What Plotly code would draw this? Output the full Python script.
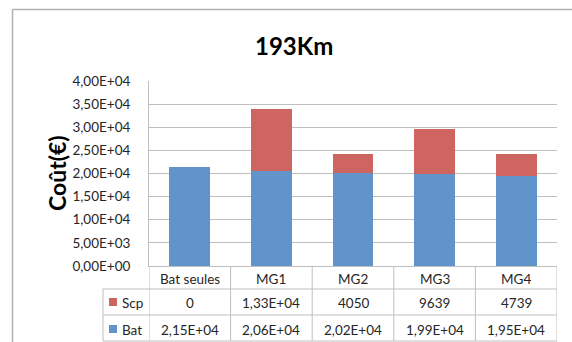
import plotly.graph_objects as go

categories = ["Bat seules", "MG1", "MG2", "MG3", "MG4"]
bat = [21500, 20600, 20200, 19900, 19500]
scp = [0, 13300, 4050, 9639, 4739]
bat_labels = ["2,15E+04", "2,06E+04", "2,02E+04", "1,99E+04", "1,95E+04"]
scp_labels = ["0", "1,33E+04", "4050", "9639", "4739"]
y_ticks = [0, 5000, 10000, 15000, 20000, 25000, 30000, 35000, 40000]
y_tick_labels = ["0,00E+00", "5,00E+03", "1,00E+04", "1,50E+04", "2,00E+04",
                 "2,50E+04", "3,00E+04", "3,50E+04", "4,00E+04"]

W, H = 572, 342
L, R, T, B = 149, 15, 81, 76
PW, PH = W - L - R, H - T - B

def px(x):
    return (x - L) / PW

def py(y):
    return (H - B - y) / PH

BLUE = "#6194CB"
RED = "#CF6561"
GRID = "#BFBFBF"
TXT = "#262626"
FONT = "Lato"

fig = go.Figure()
fig.add_trace(go.Bar(x=categories, y=bat, name="Bat", marker_color=BLUE,
                     marker_line_width=0))
fig.add_trace(go.Bar(x=categories, y=scp, name="Scp", marker_color=RED,
                     marker_line_width=0))

shapes = []
annotations = []
line = dict(color=GRID, width=1)

# chart frame (left and top edges)
shapes.append(dict(type="line", xref="paper", yref="paper", x0=px(12.5), x1=px(600),
                   y0=py(9.5), y1=py(9.5), line=dict(color="#B0B0B0", width=1.5)))
shapes.append(dict(type="line", xref="paper", yref="paper", x0=px(12.5), x1=px(12.5),
                   y0=py(9.5), y1=py(400), line=dict(color="#B0B0B0", width=1.5)))

# data table lines
row_tops = [266, 289, 315, 341]
for yy in row_tops[1:]:
    shapes.append(dict(type="line", xref="paper", yref="paper", x0=px(103), x1=1,
                       y0=py(yy), y1=py(yy), line=line))
shapes.append(dict(type="line", xref="paper", yref="paper", x0=px(103), x1=px(103),
                   y0=py(289), y1=py(341), line=line))
for i in range(len(categories) + 1):
    shapes.append(dict(type="line", xref="x", yref="paper", x0=i - 0.5, x1=i - 0.5,
                       y0=py(266), y1=py(341), line=line))

# header row
for c in categories:
    annotations.append(dict(x=c, y=py(279), xref="x", yref="paper", text=c,
                            showarrow=False, yanchor="middle",
                            font=dict(family=FONT, size=13.5, color=TXT)))
# value rows
for name, labels, color, yc in [("Scp", scp_labels, RED, 303), ("Bat", bat_labels, BLUE, 330)]:
    for c, t in zip(categories, labels):
        annotations.append(dict(x=c, y=py(yc), xref="x", yref="paper", text=t,
                                showarrow=False, yanchor="middle",
                                font=dict(family=FONT, size=13.5, color=TXT)))
    shapes.append(dict(type="rect", xref="paper", yref="paper", x0=px(109), x1=px(117),
                       y0=py(yc - 5), y1=py(yc + 3), fillcolor=color, line_width=0))
    annotations.append(dict(x=px(119.5), y=py(yc), xref="paper", yref="paper", text=name,
                            showarrow=False, xanchor="left", yanchor="middle",
                            font=dict(family=FONT, size=13.5, color=TXT)))

# title
annotations.append(dict(x=px(294), y=py(46), xref="paper", yref="paper", text="<b>193Km</b>",
                        showarrow=False, xanchor="center", yanchor="middle",
                        font=dict(family=FONT, size=24, color="#000000")))
# y axis title
annotations.append(dict(x=px(57), y=py(173), xref="paper", yref="paper", text="<b>Coût(€)</b>",
                        showarrow=False, xanchor="center", yanchor="middle", textangle=-90,
                        font=dict(family=FONT, size=23, color="#000000")))

fig.update_layout(
    width=W, height=H,
    margin=dict(l=L, r=R, t=T, b=B, pad=0),
    barmode="stack", bargap=0.5,
    showlegend=False,
    plot_bgcolor="white", paper_bgcolor="white",
    shapes=shapes, annotations=annotations,
    font=dict(family=FONT, color=TXT),
)
fig.update_xaxes(showticklabels=False, ticks="", showgrid=False, showline=True,
                 linecolor=GRID, linewidth=1, range=[-0.5, 4.5])
fig.update_yaxes(range=[0, 40000], tickvals=y_ticks, ticktext=y_tick_labels,
                 showgrid=True, gridcolor=GRID, gridwidth=1, showline=True,
                 linecolor=GRID, linewidth=1, ticks="", ticklabelstandoff=15,
                 tickfont=dict(family=FONT, size=13.5, color=TXT), zeroline=False)

fig.write_html("out.html", config={"displayModeBar": False},
               post_script="document.body.style.margin='0';document.body.style.overflow='hidden';")
